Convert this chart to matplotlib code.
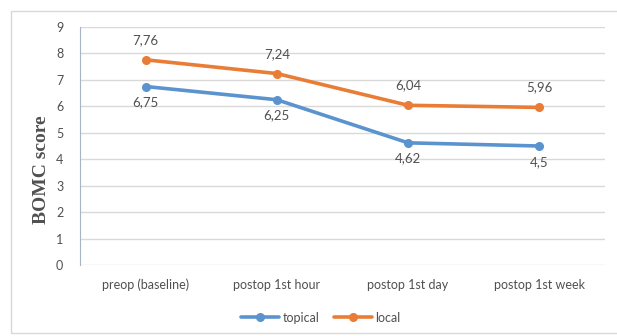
import matplotlib.pyplot as plt
from matplotlib.patches import Rectangle

categories = ['preop (baseline)', 'postop 1st hour', 'postop 1st day', 'postop 1st week']
topical = [6.75, 6.25, 4.62, 4.5]
local = [7.76, 7.24, 6.04, 5.96]
yticks = list(range(0, 10))

BLUE = '#5b93cf'
ORANGE = '#e97d36'
TXT = '#505050'

plt.rcParams['font.family'] = ['Lato', 'DejaVu Sans']

fig = plt.figure(figsize=(6.17, 3.36), dpi=100)
ax = fig.add_axes([0.1297, 0.2113, 0.8507, 0.7083])

# outer chart border
fig.patches.append(Rectangle((11 / 617, 3 / 336), 1.0, 322 / 336, transform=fig.transFigure,
                             fill=False, edgecolor='#d9d9d9', linewidth=1))

x = range(len(categories))
ax.plot(x, topical, color=BLUE, lw=2.6, marker='o', ms=5.5, label='topical', solid_capstyle='round')
ax.plot(x, local, color=ORANGE, lw=2.6, marker='o', ms=5.5, label='local', solid_capstyle='round')

for i, v in enumerate(local):
    ax.annotate(f'{v:g}'.replace('.', ','), (i, v), xytext=(0, 10), textcoords='offset points',
                ha='center', va='bottom', fontsize=9.5, color=TXT)
for i, v in enumerate(topical):
    ax.annotate(f'{v:g}'.replace('.', ','), (i, v), xytext=(0, -7), textcoords='offset points',
                ha='center', va='top', fontsize=9.5, color=TXT)

ax.set_xlim(-0.5, len(categories) - 0.5)
ax.set_ylim(0, 9)
ax.set_yticks(yticks)
ax.set_xticks(list(x))
ax.set_xticklabels(categories)
ax.tick_params(axis='both', length=0, labelsize=9, labelcolor=TXT)
ax.tick_params(axis='x', pad=10)
ax.tick_params(axis='y', pad=12)
ax.grid(axis='y', color='#d9d9d9', lw=1)
ax.set_axisbelow(True)
for s in ['top', 'right', 'bottom']:
    ax.spines[s].set_visible(False)
ax.spines['left'].set_color('#a6b4c4')

ax.set_ylabel('BOMC score', family='Liberation Serif', fontweight='bold', fontsize=14,
              color=TXT)
ax.yaxis.set_label_coords(-0.058, 0.40)

fig.legend(loc='center', bbox_to_anchor=(0.52, 0.055), ncol=2, frameon=False,
           fontsize=9, handlelength=3, columnspacing=1.2, handletextpad=0.3,
           labelcolor=TXT)

fig.savefig('out.png', dpi=100)
